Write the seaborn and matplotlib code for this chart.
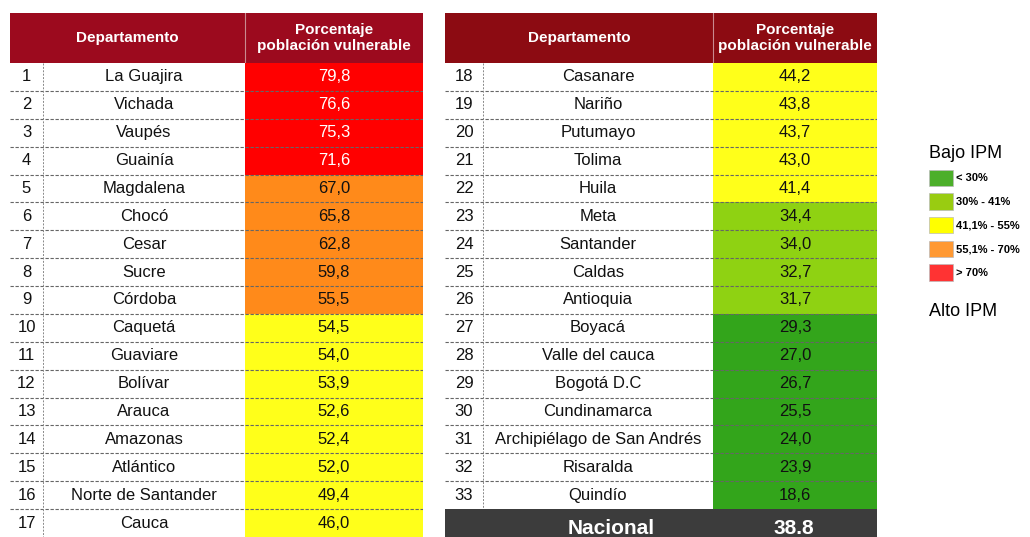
import numpy as np
import pandas as pd
import matplotlib
matplotlib.use("Agg")
import matplotlib.pyplot as plt
import seaborn as sns
from matplotlib.colors import ListedColormap, BoundaryNorm
from matplotlib.patches import Patch

# --- datos ---
ranking_izq = list(range(1, 18))
deptos_izq = ["La Guajira", "Vichada", "Vaupés", "Guainía", "Magdalena", "Chocó",
              "Cesar", "Sucre", "Córdoba", "Caquetá", "Guaviare", "Bolívar",
              "Arauca", "Amazonas", "Atlántico", "Norte de Santander", "Cauca"]
valores_izq = [79.8, 76.6, 75.3, 71.6, 67.0, 65.8, 62.8, 59.8, 55.5, 54.5, 54.0,
               53.9, 52.6, 52.4, 52.0, 49.4, 46.0]

ranking_der = list(range(18, 34))
deptos_der = ["Casanare", "Nariño", "Putumayo", "Tolima", "Huila", "Meta",
              "Santander", "Caldas", "Antioquia", "Boyacá", "Valle del cauca",
              "Bogotá D.C", "Cundinamarca", "Archipiélago de San Andrés",
              "Risaralda", "Quindío"]
valores_der = [44.2, 43.8, 43.7, 43.0, 41.4, 34.4, 34.0, 32.7, 31.7, 29.3, 27.0,
               26.7, 25.5, 24.0, 23.9, 18.6]

nacional = "38.8"

limites = [0, 30, 41, 55, 70, 100]
colores_celda = ["#33A51B", "#8FD212", "#FFFF1A", "#FF8A1A", "#FF0000"]
colores_leyenda = ["#4CAF2A", "#99CC11", "#FFFF00", "#FF9933", "#FF3333"]
etiquetas_leyenda = ["< 30%", "30% - 41%", "41,1% - 55%", "55,1% - 70%", "> 70%"]

# --- figura ---
W, H = 1030, 537
fig = plt.figure(figsize=(W / 100, H / 100), dpi=100)
FUENTE = ["Liberation Sans Narrow", "Liberation Sans", "DejaVu Sans"]
plt.rcParams["font.family"] = FUENTE


def caja(x0, y0, x1, y1):
    return [x0 / W, 1 - y1 / H, (x1 - x0) / W, (y1 - y0) / H]


cmap_val = ListedColormap(colores_celda)
norm_val = BoundaryNorm(limites, cmap_val.N)
blanco = ListedColormap(["white"])


def columna(rect, datos, etiquetas, cmap, norm=None, colores_txt=None, size=12):
    ax = fig.add_axes(rect)
    df = pd.DataFrame({"v": datos})
    sns.heatmap(df, ax=ax, cmap=cmap, norm=norm, cbar=False,
                annot=np.array(etiquetas).reshape(-1, 1), fmt="",
                annot_kws={"fontsize": size, "family": FUENTE, "color": "#111"},
                xticklabels=False, yticklabels=False)
    if colores_txt is not None:
        for t, c in zip(ax.texts, colores_txt):
            t.set_color(c)
    return ax


def tabla(x_num, x_nom, x_val, x_fin, y0, y1, ranking, deptos, valores, color_cab):
    n = len(ranking)
    # encabezado
    axh = fig.add_axes(caja(x_num, 13, x_fin, 63))
    axh.set_facecolor(color_cab)
    axh.set_xlim(x_num, x_fin)
    axh.set_ylim(1, 0)
    axh.set_xticks([])
    axh.set_yticks([])
    for s in axh.spines.values():
        s.set_visible(False)
    axh.axvline(x_val, color="#c98a8f", lw=0.8)
    axh.text((x_num + x_val) / 2, 0.5, "Departamento", color="white",
             fontsize=11, fontweight="bold", ha="center", va="center")
    axh.text((x_val + x_fin) / 2, 0.5, "Porcentaje\npoblación vulnerable",
             color="white", fontsize=11, fontweight="bold", ha="center",
             va="center", linespacing=1.1)

    # columnas
    columna(caja(x_num, y0, x_nom, y1), [0] * n, [str(r) for r in ranking], blanco)
    columna(caja(x_nom, y0, x_val, y1), [0] * n, deptos, blanco)
    txt_col = ["white" if v > 70 else "#111" for v in valores]
    columna(caja(x_val, y0, x_fin, y1), valores,
            [f"{v:.1f}".replace(".", ",") for v in valores],
            cmap_val, norm_val, txt_col)

    # lineas punteadas
    axl = fig.add_axes(caja(x_num, y0, x_fin, y1))
    axl.patch.set_alpha(0)
    axl.set_xlim(x_num, x_fin)
    axl.set_ylim(n, 0)
    axl.axis("off")
    axl.hlines(np.arange(1, n), x_num, x_fin, colors="#666666",
               linestyles=(0, (3, 1.5)), lw=0.8)
    axl.vlines([x_nom], 0, n, colors="#888888", linestyles=(0, (2, 1.5)), lw=0.7)


tabla(10, 43, 245, 423, 63, 537, ranking_izq, deptos_izq, valores_izq, "#9C0A1E")
tabla(445, 483, 713, 877, 63, 509, ranking_der, deptos_der, valores_der, "#8C0B12")

# fila nacional
axn = fig.add_axes(caja(445, 509, 877, 540))
axn.set_facecolor("#3C3C3C")
axn.set_xlim(445, 877)
axn.set_ylim(1, 0)
axn.set_xticks([])
axn.set_yticks([])
for s in axn.spines.values():
    s.set_visible(False)
axn.text(611, 0.62, "Nacional", color="white", fontsize=15, fontweight="bold",
         ha="center", va="center")
axn.text(794, 0.62, nacional, color="white", fontsize=15, fontweight="bold",
         ha="center", va="center")

# leyenda
manijas = [Patch(facecolor=c, edgecolor="#bbbbbb", lw=0.5) for c in colores_leyenda]
leg = fig.legend(manijas, etiquetas_leyenda, loc="upper left",
                 bbox_to_anchor=(925 / W, 1 - 141 / H), frameon=False,
                 title="Bajo IPM", alignment="left",
                 title_fontproperties={"size": 13, "family": FUENTE},
                 prop={"size": 8, "weight": "bold", "family": FUENTE},
                 handlelength=2.1, handleheight=1.9, handletextpad=0.3,
                 labelspacing=0.65, borderaxespad=0)
fig.text(929 / W, 1 - 312 / H, "Alto IPM", fontsize=13, ha="left", va="center")

fig.savefig("out.png", dpi=100)
